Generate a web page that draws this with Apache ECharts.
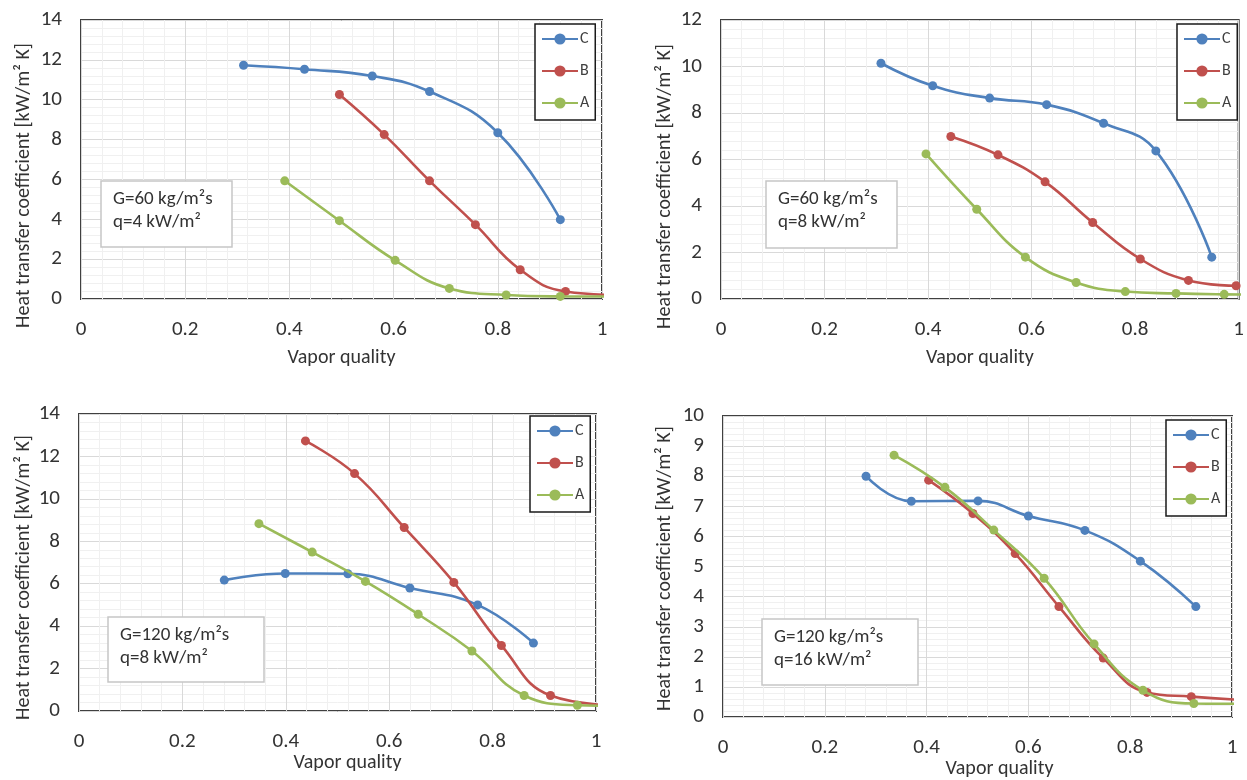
<!DOCTYPE html>
<html>
<head>
<meta charset="utf-8">
<script src="https://cdn.jsdelivr.net/npm/echarts@6/dist/echarts.min.js"></script>
<style>
html,body{margin:0;padding:0;background:#fff;}
#chart{width:1247px;height:780px;}
</style>
</head>
<body>
<div id="chart"></div>
<script>
// ---- Data (vapor quality, heat transfer coefficient) ----
const seriesNames = ['C', 'B', 'A'];
const xTicks = [0, 0.2, 0.4, 0.6, 0.8, 1];

// Panel 1: G=60 kg/m²s, q=4 kW/m²
const p1_C = [[0.312,11.73],[0.429,11.53],[0.559,11.19],[0.669,10.41],[0.800,8.34],[0.920,3.98]];
const p1_B = [[0.496,10.26],[0.582,8.25],[0.669,5.93],[0.757,3.73],[0.843,1.47],[0.930,0.38],[1.04,0.20]];
const p1_A = [[0.391,5.93],[0.496,3.93],[0.603,1.94],[0.707,0.53],[0.816,0.20],[0.920,0.13],[1.04,0.12]];

// Panel 2: G=60 kg/m²s, q=8 kW/m²
const p2_C = [[0.309,10.14],[0.409,9.17],[0.519,8.64],[0.629,8.36],[0.739,7.56],[0.840,6.37],[0.948,1.80]];
const p2_B = [[0.444,6.99],[0.535,6.20],[0.626,5.04],[0.718,3.29],[0.810,1.72],[0.903,0.80],[0.995,0.57]];
const p2_A = [[0.396,6.24],[0.494,3.86],[0.588,1.80],[0.686,0.71],[0.781,0.32],[0.879,0.24],[0.972,0.20],[1.04,0.19]];

// Panel 3: G=120 kg/m²s, q=8 kW/m²
const p3_C = [[0.281,6.17],[0.399,6.48],[0.520,6.47],[0.640,5.80],[0.771,5.00],[0.879,3.20]];
const p3_B = [[0.438,12.73],[0.533,11.19],[0.629,8.65],[0.725,6.06],[0.817,3.09],[0.912,0.73],[1.05,0.25]];
const p3_A = [[0.348,8.83],[0.451,7.49],[0.554,6.11],[0.656,4.56],[0.760,2.83],[0.861,0.73],[0.964,0.27],[1.04,0.24]];

// Panel 4: G=120 kg/m²s, q=16 kW/m²
const p4_C = [[0.281,8.00],[0.370,7.17],[0.501,7.18],[0.600,6.68],[0.711,6.20],[0.820,5.18],[0.929,3.67]];
const p4_B = [[0.404,7.87],[0.491,6.76],[0.574,5.43],[0.660,3.67],[0.747,1.96],[0.833,0.82],[0.920,0.68],[1.04,0.55]];
const p4_A = [[0.336,8.70],[0.436,7.63],[0.532,6.21],[0.631,4.61],[0.729,2.43],[0.825,0.89],[0.925,0.45],[1.04,0.44]];

const yMax = [14, 12, 14, 10];
const yInterval = [2, 2, 2, 1];
const notes = [
  'G=60 kg/m²s\nq=4 kW/m²',
  'G=60 kg/m²s\nq=8 kW/m²',
  'G=120 kg/m²s\nq=8 kW/m²',
  'G=120 kg/m²s\nq=16 kW/m²'
];
const xName = 'Vapor quality';
const yName = 'Heat transfer coefficient [kW/m² K]';

// ---- Styling / layout ----
const FONT = "Carlito, Lato, 'Liberation Sans', sans-serif";
const colors = { C: '#4F81BD', B: '#C0504D', A: '#9BBB59' };
const panelData = [[p1_C, p1_B, p1_A], [p2_C, p2_B, p2_A], [p3_C, p3_B, p3_A], [p4_C, p4_B, p4_A]];

const grids = [
  { left: 81, top: 20, width: 521, height: 279 },
  { left: 721, top: 20, width: 521, height: 279 },
  { left: 79, top: 414, width: 517, height: 297 },
  { left: 723, top: 416, width: 509, height: 310 }
];
const xNameGap = [49, 49, 41, 35];
const xNamePad = [[0,0,0,0],[0,0,0,0],[0,0,0,20],[0,0,0,44]];
const yNameGap = [47, 46, 45, 48];
const yNamePad = [[0,52,0,0],[0,54,0,0],[0,30,0,0],[0,4,0,0]];
const legendPos = [
  { left: 535, top: 24 }, { left: 1177, top: 24 },
  { left: 530, top: 416 }, { left: 1166, top: 420 }
];
const notePos = [
  { x: 101, y: 181, w: 131, h: 66 },
  { x: 766, y: 181, w: 131, h: 67 },
  { x: 108, y: 617, w: 156, h: 65 },
  { x: 762, y: 619, w: 156, h: 66 }
];

const option = {
  animation: false,
  backgroundColor: '#fff',
  textStyle: { fontFamily: FONT },
  grid: grids.map(g => Object.assign({
    show: true, borderColor: '#404040', borderWidth: 2, backgroundColor: 'transparent',
    containLabel: false
  }, g)),
  xAxis: grids.map((g, i) => ({
    type: 'value', gridIndex: i, min: xTicks[0], max: xTicks[xTicks.length - 1], interval: 0.2,
    axisLine: { show: false }, axisTick: { show: false },
    splitLine: { show: true, lineStyle: { color: '#d9d9d9', width: 1 } },
    minorTick: { show: false, splitNumber: 5 },
    minorSplitLine: { show: true, lineStyle: { color: '#f0f0f0', width: 1 } },
    axisLabel: { margin: 20, fontSize: 21, color: '#333', fontFamily: FONT },
    name: xName, nameLocation: 'middle', nameGap: xNameGap[i],
    nameTextStyle: { fontSize: 20, color: '#333', fontFamily: FONT, padding: xNamePad[i] }
  })),
  yAxis: grids.map((g, i) => ({
    type: 'value', gridIndex: i, min: 0, max: yMax[i], interval: yInterval[i],
    axisLine: { show: false }, axisTick: { show: false },
    splitLine: { show: true, lineStyle: { color: '#d9d9d9', width: 1 } },
    minorTick: { show: false, splitNumber: 5 },
    minorSplitLine: { show: true, lineStyle: { color: '#f0f0f0', width: 1 } },
    axisLabel: { margin: 19, fontSize: 21, color: '#333', fontFamily: FONT },
    name: yName, nameLocation: 'middle', nameGap: yNameGap[i], nameRotate: 90,
    nameTextStyle: { fontSize: 20, color: '#333', fontFamily: FONT, padding: yNamePad[i] }
  })),
  legend: legendPos.map(p => ({
    orient: 'vertical', left: p.left, top: p.top,
    data: seriesNames,
    itemWidth: 36, itemHeight: 14, itemGap: 16,
    padding: [7, 6, 9, 6],
    borderColor: '#1a1a1a', borderWidth: 1.5, backgroundColor: '#fff',
    textStyle: { fontSize: 16, color: '#404040', fontFamily: FONT, padding: [0, 0, 0, -3] },
    selectedMode: false
  })),
  series: [],
  graphic: notePos.map((n, i) => ({
    type: 'group', x: n.x, y: n.y,
    children: [
      { type: 'rect', z: 100, shape: { x: 0, y: 0, width: n.w, height: n.h },
        style: { fill: '#fff', stroke: '#c6c6c6', lineWidth: 1.5 } },
      { type: 'text', z: 101, x: 12, y: 7,
        style: { text: notes[i], fontSize: 19, lineHeight: 23, fill: '#333', fontFamily: FONT,
                 verticalAlign: 'top', align: 'left' } }
    ]
  }))
};

panelData.forEach((set, i) => {
  set.forEach((data, k) => {
    const name = seriesNames[k];
    option.series.push({
      type: 'line', name: name, xAxisIndex: i, yAxisIndex: i,
      data: data, smooth: 0.45, clip: true,
      symbol: 'circle', symbolSize: 9,
      lineStyle: { color: colors[name], width: 2.6 },
      itemStyle: { color: colors[name] },
      z: 3 + k
    });
  });
});

const chart = echarts.init(document.getElementById('chart'), null, { renderer: 'canvas' });
chart.setOption(option);
</script>
</body>
</html>
